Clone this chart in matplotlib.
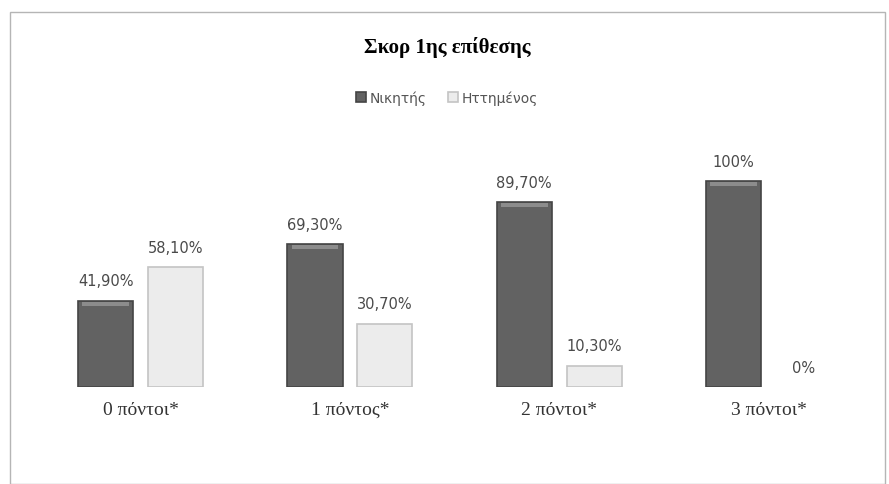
import matplotlib.pyplot as plt
import matplotlib.patches as mpatches
import numpy as np

# Data
categories = ["0 πόντοι*", "1 πόντος*", "2 πόντοι*", "3 πόντοι*"]
winners = [41.9, 69.3, 89.7, 100.0]
losers = [58.1, 30.7, 10.3, 0.0]
winner_labels = ["41,90%", "69,30%", "89,70%", "100%"]
loser_labels = ["58,10%", "30,70%", "10,30%", "0%"]

fig = plt.figure(figsize=(8.89, 4.85), dpi=100)
fig.patch.set_facecolor("white")

# outer chart border
fig.add_artist(mpatches.Rectangle((10 / 889, 0.0), 875 / 889, 472 / 485,
                                  transform=fig.transFigure, fill=False,
                                  edgecolor="#b5b5b5", linewidth=1.0))

ax = fig.add_axes([0.0405, 0.2, 0.9417, 0.5097])
x = np.arange(len(categories))
w = 0.263
off = 0.167

b1 = ax.bar(x - off, winners, w, color="#626262", edgecolor="#444444",
            linewidth=1.2, label="Νικητής")
loser_edges = ["#c4c4c4" if v > 0 else "none" for v in losers]
b2 = ax.bar(x + off, losers, w, color="#ececec", edgecolor=loser_edges,
            linewidth=1.2, label="Ηττημένος")

# soft top highlight on dark bars
for r in b1:
    ax.bar(r.get_x() + r.get_width() / 2, 1.8, r.get_width() * 0.85,
           bottom=r.get_height() - 2.4, color="#8c8c8c", linewidth=0)

for xi, v, t in zip(x - off, winners, winner_labels):
    ax.text(xi, v + 6, t, ha="center", va="bottom", fontsize=10.5,
            color="#4a4a4a", family="DejaVu Sans")
for xi, v, t in zip(x + off, losers, loser_labels):
    ax.text(xi, v + 6, t, ha="center", va="bottom", fontsize=10.5,
            color="#4a4a4a", family="DejaVu Sans")

ax.set_xlim(-0.5, 3.5)
ax.set_ylim(0, 120)
ax.set_xticks(x)
ax.set_xticklabels(categories, fontsize=14, family="Liberation Serif",
                   color="#333333")
ax.tick_params(axis="x", length=0, pad=10)
ax.set_yticks([])
for s in ax.spines.values():
    s.set_visible(False)

fig.text(0.503, 0.903, "Σκορ 1ης επίθεσης", ha="center", va="center",
         fontsize=15, fontweight="bold", family="Liberation Serif")

leg = fig.legend(handles=[b1, b2], loc="center", bbox_to_anchor=(0.503, 0.796),
                 ncol=2, frameon=False, fontsize=10, handlelength=0.7,
                 handleheight=0.7, handletextpad=0.3, columnspacing=1.5)
for t in leg.get_texts():
    t.set_color("#555555")

fig.savefig("out.png", dpi=100)
